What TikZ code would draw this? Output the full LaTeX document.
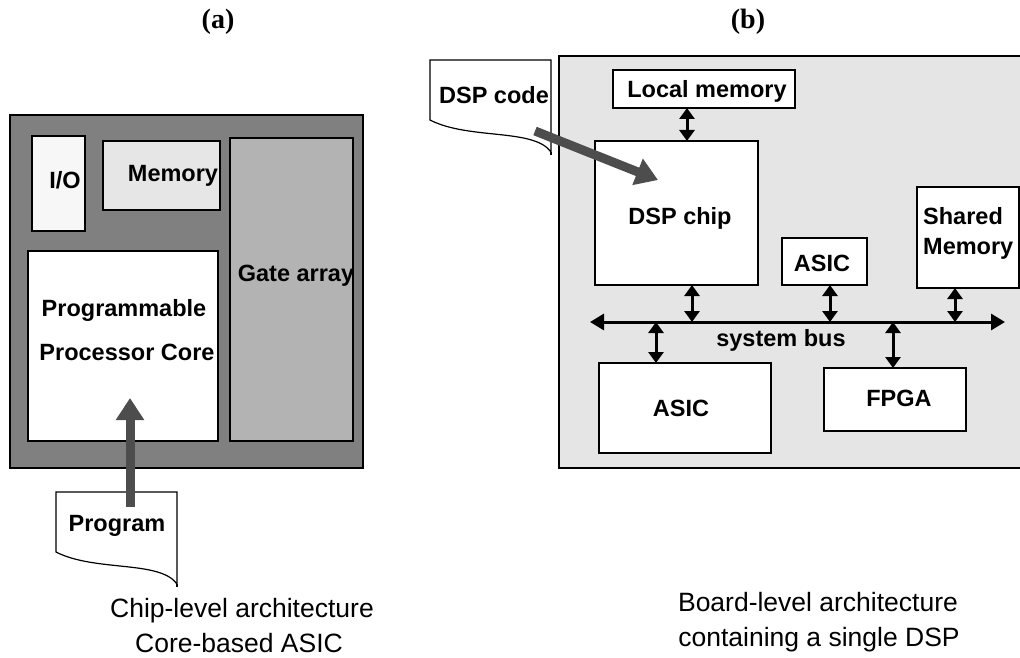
\documentclass[tikz,border=0pt]{standalone}
\usepackage{fontspec}
\setmainfont{Liberation Sans}
\newfontfamily\titlefont{Liberation Serif}
\usetikzlibrary{arrows.meta}
\definecolor{chipgray}{HTML}{808080}
\definecolor{iofill}{HTML}{F7F7F7}
\definecolor{memfill}{HTML}{E6E6E6}
\definecolor{gatefill}{HTML}{B3B3B3}
\definecolor{arrowgray}{HTML}{4D4D4D}
\definecolor{boardfill}{HTML}{E5E5E5}
\newcommand\mkbox[6]{\node[#2,anchor=north west,minimum width={(#5-#3)*1pt},minimum height={(#6-#4)*1pt}] (#1) at (#3,#4) {};}
\tikzset{
  thinbox/.style={draw=black,line width=1.3pt,inner sep=0pt,outer sep=0pt},
  thickbox/.style={draw=black,line width=2.6pt,fill=white,inner sep=0pt,outer sep=0pt},
  lbl/.style={font=\fontsize{23.5}{26}\selectfont\bfseries,inner sep=0pt,text height=16.8pt,text depth=0pt},
  captxt/.style={font=\fontsize{26.5}{30}\selectfont,inner sep=0pt,text height=19pt,text depth=0pt},
  ttl/.style={font=\fontsize{28}{32}\selectfont\titlefont\bfseries,inner sep=0pt},
  bigarrow/.style={draw=arrowgray,line width=9pt,line cap=butt,-{Triangle[width=27pt,length=22pt]}},
  bidir/.style={draw=black,line width=3pt,{Triangle[width=15pt,length=11pt]}-{Triangle[width=15pt,length=11pt]}},
  docpic/.pic={
    \filldraw[fill=white,draw=black,line width=1.2pt] (0,0) -- (121,0) -- (121,92) .. controls (104,68) and (39,80) .. (0,60) -- cycle;
    \draw[black,line width=1.2pt] (121,92) -- (121,95);
  }
}
\begin{document}
\begin{tikzpicture}[x=1pt,y=-1pt]
\useasboundingbox (0,0) rectangle (1020,658);

% titles
\node[ttl] (ta) at (218,22) {(a)};
\node[ttl] (tb) at (748,22) {(b)};

% ---------- (a) chip level ----------
\mkbox{chip}{thinbox,fill=chipgray}{10}{115}{363}{468}
\mkbox{io}{thinbox,fill=iofill}{32}{136}{85}{231}
\mkbox{mem}{thinbox,fill=memfill}{103}{141}{220}{210}
\mkbox{gate}{thinbox,fill=gatefill}{230}{138}{353}{441}
\mkbox{core}{thinbox,fill=white}{28}{251}{218}{441}

\node[lbl] (tio) at (65,180) {I/O};
\node[lbl] (tmem) at (173,173) {Memory};
\node[lbl] (tgate) at (296,273) {Gate array};
\node[lbl] (tcore1) at (124,308) {Programmable};
\node[lbl] (tcore2) at (127,352) {Processor Core};

\pic (progdoc) at (56,492) {docpic};
\node[lbl] (tprog) at (117,523) {Program};
\coordinate (progsrc) at (130,507);
\coordinate (progdst) at (130,398);
\draw[bigarrow] (progsrc) -- (progdst);

\node[captxt] (capa1) at (242,608) {Chip-level architecture};
\node[captxt] (capa2) at (239,643) {Core-based ASIC};

% ---------- (b) board level ----------
\mkbox{board}{thinbox,fill=boardfill}{559}{56}{1035}{468}
\mkbox{lm}{thickbox}{613}{70}{795}{108}
\mkbox{dsp}{thickbox}{595}{141}{758}{285}
\mkbox{asic1}{thickbox}{782}{238}{867}{285}
\mkbox{shm}{thickbox}{917}{187}{1019}{288}
\mkbox{asic2}{thickbox}{599}{363}{771}{453}
\mkbox{fpga}{thickbox}{824}{368}{966}{431}

\node[lbl] (tlm) at (707,89) {Local memory};
\node[lbl] (tdsp) at (680,216) {DSP chip};
\node[lbl] (tasic1) at (822,263) {ASIC};
\node[lbl,anchor=west] (tshm1) at (923,216) {Shared};
\node[lbl,anchor=west] (tshm2) at (923,246) {Memory};
\node[lbl] (tasic2) at (681,408) {ASIC};
\node[lbl] (tfpga) at (899,398) {FPGA};
\node[lbl] (tbus) at (781,338) {system bus};

% bus
\coordinate (busL) at (590,322);
\coordinate (busR) at (1005,322);
\draw[draw=black,line width=3pt,{Triangle[width=16pt,length=14pt]}-{Triangle[width=16pt,length=14pt]}] (busL) -- (busR);

% bus taps
\coordinate (xlm) at (687,0);
\coordinate (xdsp) at (692,0);
\coordinate (xasic1) at (830,0);
\coordinate (xshm) at (955,0);
\coordinate (xasic2) at (656,0);
\coordinate (xfpga) at (893,0);
\draw[bidir] (lm.south -| xlm) -- (dsp.north -| xlm);
\draw[bidir] (dsp.south -| xdsp) -- (busL -| xdsp);
\draw[bidir] (asic1.south -| xasic1) -- (busL -| xasic1);
\draw[bidir] (shm.south -| xshm) -- (busL -| xshm);
\draw[bidir] (busL -| xasic2) -- (asic2.north -| xasic2);
\draw[bidir] (busL -| xfpga) -- (fpga.north -| xfpga);

% DSP code document and arrow
\pic (dspdoc) at (430,60) {docpic};
\node[lbl] (tcode) at (494,95) {DSP code};
\coordinate (codesrc) at (535,131);
\coordinate (codedst) at (658,180);
\draw[bigarrow] (codesrc) -- (codedst);

\node[captxt] (capb1) at (818,602) {Board-level architecture};
\node[captxt] (capb2) at (819,637) {containing a single DSP};
\end{tikzpicture}
\end{document}
